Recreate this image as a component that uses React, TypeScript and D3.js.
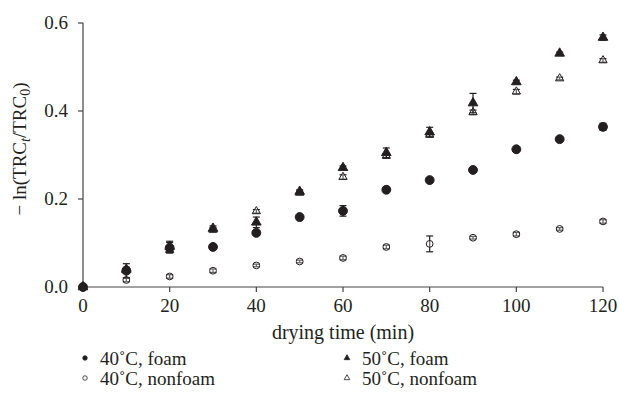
import React from "react";
import * as d3 from "d3";

// drying time (min)
const times = [0, 10, 20, 30, 40, 50, 60, 70, 80, 90, 100, 110, 120];

// -ln(TRC_t/TRC_0) for each series
const foam40 = [0, 0.037, 0.089, 0.091, 0.123, 0.159, 0.173, 0.221, 0.243, 0.266, 0.313, 0.336, 0.364];
const foam40Err = [0.002, 0.016, 0.012, 0.003, 0.005, 0.003, 0.012, 0.003, 0.004, 0.003, 0.004, 0.003, 0.008];
const nonfoam40 = [0, 0.016, 0.024, 0.037, 0.049, 0.058, 0.066, 0.091, 0.098, 0.112, 0.12, 0.132, 0.149];
const nonfoam40Err = [0.002, 0.004, 0.004, 0.004, 0.003, 0.003, 0.004, 0.004, 0.018, 0.003, 0.004, 0.003, 0.004];
const foam50 = [0, 0.04, 0.092, 0.133, 0.147, 0.217, 0.271, 0.305, 0.352, 0.418, 0.466, 0.531, 0.567];
const foam50Err = [0.002, 0.005, 0.012, 0.006, 0.012, 0.004, 0.004, 0.011, 0.011, 0.022, 0.004, 0.003, 0.006];
const nonfoam50 = [0, 0.038, 0.084, 0.13, 0.172, 0.214, 0.25, 0.298, 0.346, 0.397, 0.444, 0.474, 0.515];
const nonfoam50Err = [0.002, 0.004, 0.005, 0.005, 0.004, 0.004, 0.005, 0.005, 0.005, 0.005, 0.005, 0.003, 0.004];

const xTicks = [0, 20, 40, 60, 80, 100, 120];
const yTicks = [0, 0.2, 0.4, 0.6];

const series = [
  { name: "50\u02DAC, nonfoam", values: nonfoam50, err: nonfoam50Err, shape: d3.symbolTriangle, filled: false, size: 30 },
  { name: "50\u02DAC, foam", values: foam50, err: foam50Err, shape: d3.symbolTriangle, filled: true, size: 40 },
  { name: "40\u02DAC, nonfoam", values: nonfoam40, err: nonfoam40Err, shape: d3.symbolCircle, filled: false, size: 36 },
  { name: "40\u02DAC, foam", values: foam40, err: foam40Err, shape: d3.symbolCircle, filled: true, size: 62 },
];

// legend order (two columns)
const legendItems = [
  { label: "40\u02DAC, foam", shape: d3.symbolCircle, filled: true, col: 0, row: 0 },
  { label: "50\u02DAC, foam", shape: d3.symbolTriangle, filled: true, col: 1, row: 0 },
  { label: "40\u02DAC, nonfoam", shape: d3.symbolCircle, filled: false, col: 0, row: 1 },
  { label: "50\u02DAC, nonfoam", shape: d3.symbolTriangle, filled: false, col: 1, row: 1 },
];

const W = 619;
const H = 418;
const margin = { left: 83, right: 16, top: 23, bottom: 131 };
const font = "'Liberation Serif', 'DejaVu Serif', serif";
const ink = "#231f20";
const fs = 19;

export default function App() {
  const x = d3.scaleLinear().domain([0, 120]).range([margin.left, W - margin.right]);
  const y = d3.scaleLinear().domain([0, 0.6]).range([H - margin.bottom, margin.top]);
  const y0 = y(0);

  return (
    <svg width={W} height={H} style={{ position: "absolute", left: 0, top: 0, background: "#fff", fontFamily: font }}>
      {/* axes */}
      <line x1={x(0)} x2={x(0)} y1={y(0.6)} y2={y0} stroke="#444" strokeWidth={1.2} />
      <line x1={x(0)} x2={x(120)} y1={y0} y2={y0} stroke="#444" strokeWidth={1.2} />
      {yTicks.map((t) => (
        <g key={"y" + t}>
          <line x1={x(0) - 5} x2={x(0)} y1={y(t)} y2={y(t)} stroke="#444" strokeWidth={1.2} />
          <text x={x(0) - 15} y={y(t)} dy="0.33em" textAnchor="end" fontSize={fs} fill={ink}>
            {d3.format(".1f")(t)}
          </text>
        </g>
      ))}
      {xTicks.map((t) => (
        <g key={"x" + t}>
          <line x1={x(t)} x2={x(t)} y1={y0} y2={y0 + 5} stroke="#444" strokeWidth={1.2} />
          <text x={x(t)} y={y0 + 25} textAnchor="middle" fontSize={fs} fill={ink}>
            {t}
          </text>
        </g>
      ))}

      {/* axis titles */}
      <text x={x(60)} y={y0 + 52} textAnchor="middle" fontSize={20} fill={ink}>
        drying time (min)
      </text>
      <text transform={`translate(26,149) rotate(-90)`} textAnchor="middle" fontSize={fs} fill={ink}>
        {"\u2212 ln(TRC"}
        <tspan fontStyle="italic" fontSize={14} dy={4}>t</tspan>
        <tspan dy={-4}>{"/TRC"}</tspan>
        <tspan fontSize={14} dy={4}>0</tspan>
        <tspan dy={-4}>)</tspan>
      </text>

      {/* data */}
      {series.map((s) => (
        <g key={s.name}>
          {times.map((t, i) => {
            const cx = x(t);
            const cy = y(s.values[i]);
            const top = y(s.values[i] + s.err[i]);
            const bot = y(Math.max(0, s.values[i] - s.err[i]));
            return (
              <g key={t}>
                <line x1={cx} x2={cx} y1={top} y2={bot} stroke={ink} strokeWidth={1.2} />
                <line x1={cx - 3.5} x2={cx + 3.5} y1={top} y2={top} stroke={ink} strokeWidth={1.2} />
                <line x1={cx - 3.5} x2={cx + 3.5} y1={bot} y2={bot} stroke={ink} strokeWidth={1.2} />
                <path
                  d={d3.symbol().type(s.shape).size(s.size)() as string}
                  transform={`translate(${cx},${cy})`}
                  fill={s.filled ? ink : "#fff"}
                  fillOpacity={s.filled ? 1 : 0.3}
                  stroke={ink}
                  strokeWidth={1}
                />
              </g>
            );
          })}
        </g>
      ))}

      {/* legend */}
      {legendItems.map((it) => {
        const lx = 85 + it.col * 262;
        const ly = 358 + it.row * 20;
        return (
          <g key={it.label} transform={`translate(${lx},${ly})`}>
            <path
              d={d3.symbol().type(it.shape).size(it.shape === d3.symbolCircle ? 16 : 14)() as string}
              fill={it.filled ? ink : "#fff"}
              stroke={ink}
              strokeWidth={0.8}
            />
            <text x={15} dy="0.35em" fontSize={fs} fill={ink}>
              {it.label}
            </text>
          </g>
        );
      })}
    </svg>
  );
}
